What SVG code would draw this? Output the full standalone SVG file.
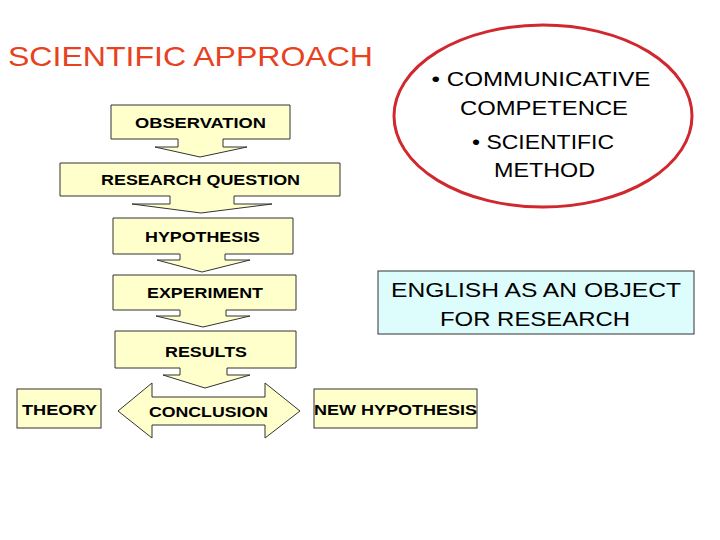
<svg xmlns="http://www.w3.org/2000/svg" width="720" height="540" viewBox="0 0 720 540">
<style>
.y{fill:#FFFFCC;stroke:#333;stroke-width:1}
.lbl{font-family:"Liberation Sans",Arial,sans-serif;font-weight:bold;font-size:15px;fill:#000;text-anchor:middle}
.reg{font-family:"Liberation Sans",Arial,sans-serif;font-size:21px;fill:#000;text-anchor:middle}
</style>
<rect width="720" height="540" fill="#fff"/>
<text id="title" x="8" y="66" font-family="Liberation Sans, Arial, sans-serif" font-size="28" fill="#E8411E" textLength="365" lengthAdjust="spacingAndGlyphs">SCIENTIFIC APPROACH</text>

<g id="ellipse">
<ellipse cx="543" cy="116" rx="149" ry="91" fill="#fff" stroke="#D0282E" stroke-width="3"/>
<text class="reg" x="541" y="86" textLength="219" lengthAdjust="spacingAndGlyphs">• COMMUNICATIVE</text>
<text class="reg" x="544" y="115" textLength="168" lengthAdjust="spacingAndGlyphs">COMPETENCE</text>
<text class="reg" x="543" y="149" textLength="142" lengthAdjust="spacingAndGlyphs">• SCIENTIFIC</text>
<text class="reg" x="544.5" y="177" textLength="101" lengthAdjust="spacingAndGlyphs">METHOD</text>
</g>

<g id="observation">
<path class="y" d="M111,105 H290 V139 H223 V147 H247 L200,157 L155,147 H178 V139 H111 Z"/>
<text class="lbl" x="200.5" y="128" textLength="131" lengthAdjust="spacingAndGlyphs">OBSERVATION</text>
</g>
<g id="research-question">
<path class="y" d="M60,163 H340 V196 H234 V204 H272 L201,213 L132,204 H170 V196 H60 Z"/>
<text class="lbl" x="200.5" y="185" textLength="199" lengthAdjust="spacingAndGlyphs">RESEARCH QUESTION</text>
</g>
<g id="hypothesis">
<path class="y" d="M113,218 H293 V254 H225 V260 H250 L202,272 L157,260 H180 V254 H113 Z"/>
<text class="lbl" x="202.5" y="242" textLength="115" lengthAdjust="spacingAndGlyphs">HYPOTHESIS</text>
</g>
<g id="experiment">
<path class="y" d="M113,275 H296 V310 H226 V316 H250 L203,327 L156,316 H180 V310 H113 Z"/>
<text class="lbl" x="205" y="298" textLength="116" lengthAdjust="spacingAndGlyphs">EXPERIMENT</text>
</g>
<g id="results">
<path class="y" d="M115,331 H296 V368 H227 V375 H250 L205,388 L163,375 H180 V368 H115 Z"/>
<text class="lbl" x="206" y="357" textLength="82" lengthAdjust="spacingAndGlyphs">RESULTS</text>
</g>
<g id="conclusion">
<path class="y" d="M118,411 L152,383 V397 H265 V383 L300,411 L265,438 V425 H152 V438 Z"/>
<text class="lbl" x="208.5" y="417" textLength="119" lengthAdjust="spacingAndGlyphs">CONCLUSION</text>
</g>
<g id="theory">
<rect class="y" x="17" y="389" width="84" height="39"/>
<text class="lbl" x="59.5" y="415" textLength="75" lengthAdjust="spacingAndGlyphs">THEORY</text>
</g>
<g id="new-hypothesis">
<rect class="y" x="314" y="389" width="163" height="39"/>
<text class="lbl" x="395.5" y="415" textLength="163" lengthAdjust="spacingAndGlyphs">NEW HYPOTHESIS</text>
</g>
<g id="english">
<rect x="378" y="271" width="316" height="63" fill="#DDFDFD" stroke="#333" stroke-width="1"/>
<text class="reg" x="536" y="297" textLength="290" lengthAdjust="spacingAndGlyphs">ENGLISH AS AN OBJECT</text>
<text class="reg" x="535" y="326" textLength="190" lengthAdjust="spacingAndGlyphs">FOR RESEARCH</text>
</g>
<g id="connectors"></g>
</svg>
